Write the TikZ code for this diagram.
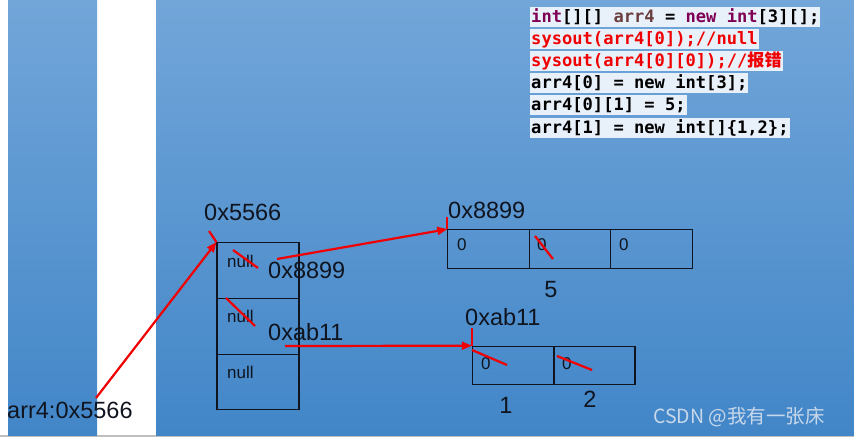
\documentclass[tikz,border=0pt]{standalone}
\usepackage{fontspec}
\setmainfont{Liberation Sans}
\newfontfamily\codefont{DejaVu Sans Mono}
\newfontfamily\cjk{Noto Sans CJK SC}
\usetikzlibrary{arrows.meta}
\definecolor{ptop}{RGB}{114,166,217}
\definecolor{pbot}{RGB}{66,134,200}
\definecolor{kw}{RGB}{127,0,85}
\definecolor{vr}{RGB}{106,62,62}
\definecolor{hl}{RGB}{232,240,250}
\definecolor{rd}{RGB}{240,0,0}
\definecolor{ink}{RGB}{15,20,30}
\definecolor{wm}{RGB}{200,216,234}
\tikzset{
  code/.style={anchor=west, fill=hl, inner xsep=1pt, inner ysep=0pt, text height=15pt, text depth=5pt,
    font=\codefont\bfseries\fontsize{17.1}{20}\selectfont},
  cell/.style={draw=ink, line width=1.1pt, inner sep=0pt, minimum width=82pt, minimum height=55.7pt},
  acell/.style={draw=ink, line width=1.1pt, inner sep=0pt, minimum width=81.3pt, minimum height=38.5pt},
  lbl/.style={text=ink, inner sep=0pt, font=\fontsize{23.5}{27}\selectfont},
  small/.style={text=ink, inner sep=0pt, font=\fontsize{17}{20}\selectfont},
  redl/.style={draw=rd, line width=2.2pt},
  redarrow/.style={draw=rd, line width=2.2pt, -{Triangle[length=10pt,width=8pt]}}
}
\begin{document}
\begin{tikzpicture}[x=1pt,y=-1pt]
\useasboundingbox (0,0) rectangle (854,437);
\fill[white] (0,0) rectangle (854,437);
\fill[black!25] (0,435) rectangle (854,437);
\shade[top color=ptop, bottom color=pbot] (8,0) rectangle (97,435);
\shade[top color=ptop, bottom color=pbot] (156,0) rectangle (854,435);

% code
\node[code] (l1) at (530,17) {\textcolor{kw}{int}[][] \textcolor{vr}{arr4} = \textcolor{kw}{new} \textcolor{kw}{int}[3][];};
\node[code, text=rd] (l2) at (530,39) {sysout(arr4[0]);//null};
\node[code, text=rd] (l3) at (530,61) {sysout(arr4[0][0]);//{\cjk\bfseries 报错}};
\node[code] (l4) at (530,83) {arr4[0] = new int[3];};
\node[code] (l5) at (530,105) {arr4[0][1] = 5;};
\node[code] (l6) at (530,128) {arr4[1] = new int[]\{1,2\};};

% stack
\node[cell] (c1) at (258,270.5) {};
\node[cell] (c2) at (258,326.2) {};
\node[cell] (c3) at (258,381.9) {};
\node[small, anchor=west] (n1) at (227,261) {null};
\node[small, anchor=west] (n2) at (227,316) {null};
\node[small, anchor=west] (n3) at (227,372) {null};
\node[lbl, anchor=west] (h1) at (204,212) {0x5566};
\node[lbl, anchor=west] (p1) at (268,270) {0x8899};
\node[lbl, anchor=west] (p2) at (268,332) {0xab11};
\node[lbl, anchor=west] (v) at (7,410) {arr4:0x5566};

% array 1
\node[acell] (b1) at (488.5,249) {};
\node[acell] (b2) at (570,249) {};
\node[acell] (b3) at (651.5,249) {};
\node[small, anchor=west] (z1) at (457,245) {0};
\node[small, anchor=west] (z2) at (537,245) {0};
\node[small, anchor=west] (z3) at (619,245) {0};
\node[lbl, anchor=west] (h2) at (448,210) {0x8899};
\node[lbl] (five) at (551,290) {5};

% array 2
\node[acell] (d1) at (513,365.5) {};
\node[acell, minimum width=81pt] (d2) at (594.5,365.5) {};
\node[small, anchor=west] (y1) at (481,364) {0};
\node[small, anchor=west] (y2) at (562,364) {0};
\node[lbl, anchor=west] (h3) at (465,317) {0xab11};
\node[lbl] (one) at (506,405) {1};
\node[lbl] (two) at (590,399) {2};

% connectors
\coordinate (a0) at (96,398);
\coordinate (a1) at (277,259);
\coordinate (a2) at (285,346);
\draw[redarrow] (a0) -- (c1.north west);
\draw[redarrow] (a1) -- (b1.north west);
\draw[redarrow] (a2) -- (d1.north west);
\draw[redl] (209,231) -- (c1.north west);
\draw[redl] (b1.north west) -- ++(0,-12);
\draw[redl] (d1.north west) -- ++(0,-18);

% strike-throughs
\draw[redl] (233,250) -- (258,268);
\draw[redl] (226,298) -- (255,326);
\draw[redl] (535,236) -- (553,259);
\draw[redl] (472,350) -- (507,365);
\draw[redl] (557,356) -- (592,370);

% watermark
\node[text=wm, inner sep=0pt, font=\cjk\fontsize{19.5}{22}\selectfont] (w) at (739,417) {CSDN @我有一张床};
\end{tikzpicture}
\end{document}
